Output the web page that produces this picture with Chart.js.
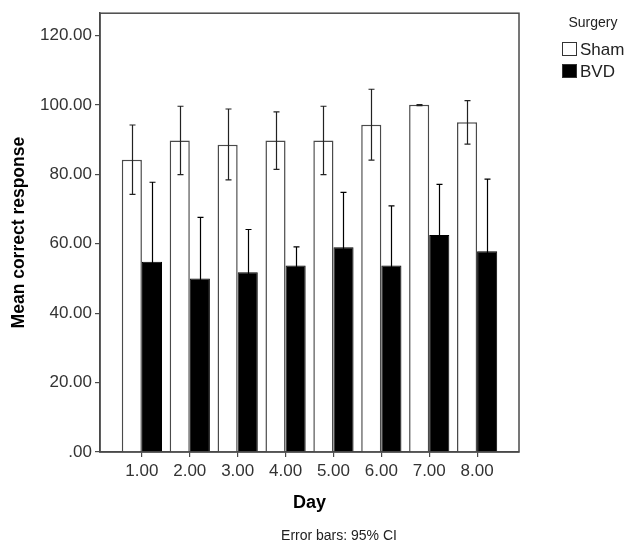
<!DOCTYPE html>
<html>
<head>
<meta charset="utf-8">
<script src="https://cdn.jsdelivr.net/npm/chart.js@4.4.0/dist/chart.umd.min.js"></script>
<style>
html,body{margin:0;padding:0;background:#fff;}
#wrap{width:630px;height:545px;position:relative;}
</style>
</head>
<body>
<div id="wrap"><canvas id="c" width="630" height="545"></canvas></div>
<script>
const days = [1, 2, 3, 4, 5, 6, 7, 8];
const yTicks = [0, 20, 40, 60, 80, 100, 120];
const seriesNames = ['Sham', 'BVD'];
const shamMean = [84.2, 89.7, 88.5, 89.7, 89.7, 94.3, 100.0, 95.0];
const shamLow  = [74.2, 79.9, 78.4, 81.4, 79.9, 84.1, 99.8, 88.7];
const shamHigh = [94.2, 99.6, 98.8, 98.0, 99.6, 104.5, 100.1, 101.2];
const bvdMean  = [54.8, 50.0, 51.8, 53.7, 59.0, 53.7, 62.5, 57.8];
const bvdLow   = [31.9, 32.4, 39.5, 48.3, 43.2, 36.5, 47.9, 37.0];
const bvdHigh  = [77.7, 67.6, 64.1, 59.1, 74.8, 70.9, 77.1, 78.6];
const legendTitle = 'Surgery';
const xTitle = 'Day';
const yTitle = 'Mean correct response';
const footnote = 'Error bars: 95% CI';

const FONT = '"Liberation Sans", Arial, sans-serif';
const errLow = [shamLow, bvdLow];
const errHigh = [shamHigh, bvdHigh];
const errColor = ['#222222', '#000000'];

const errorBars = {
  id: 'errorBars',
  afterDatasetsDraw(chart) {
    const ctx = chart.ctx;
    const ys = chart.scales.y;
    ctx.save();
    ctx.lineWidth = 1.2;
    chart.data.datasets.forEach((ds, di) => {
      const meta = chart.getDatasetMeta(di);
      ctx.strokeStyle = errColor[di];
      meta.data.forEach((el, j) => {
        const x = Math.round(el.x) + 0.5;
        const y1 = ys.getPixelForValue(errLow[di][j]);
        const y2 = ys.getPixelForValue(errHigh[di][j]);
        ctx.beginPath();
        ctx.moveTo(x, y1); ctx.lineTo(x, y2);
        ctx.moveTo(x - 3, y1); ctx.lineTo(x + 3, y1);
        ctx.moveTo(x - 3, y2); ctx.lineTo(x + 3, y2);
        ctx.stroke();
      });
    });
    ctx.restore();
  }
};

const frameAndText = {
  id: 'frameAndText',
  afterDraw(chart) {
    const ctx = chart.ctx;
    const a = chart.chartArea;
    ctx.save();
    ctx.strokeStyle = '#4a4a4a';
    ctx.lineWidth = 1.5;
    ctx.strokeRect(a.left, a.top, a.right - a.left, a.bottom - a.top);
    ctx.fillStyle = '#222';
    ctx.font = '14px ' + FONT;
    ctx.textAlign = 'center';
    ctx.textBaseline = 'middle';
    ctx.fillText(footnote, 339, 536);
    ctx.font = '14px ' + FONT;
    ctx.fillText(legendTitle, 593, 23);
    ctx.textAlign = 'left';
    ctx.font = '17px ' + FONT;
    const rows = [49, 71];
    chart.data.datasets.forEach((ds, i) => {
      const y = rows[i];
      ctx.fillStyle = ds.backgroundColor;
      ctx.fillRect(562, y - 7, 15, 14);
      ctx.strokeStyle = '#333';
      ctx.lineWidth = 1;
      ctx.strokeRect(562.5, y - 6.5, 14, 13);
      ctx.fillStyle = '#222';
      ctx.fillText(ds.label, 580, y + 1);
    });
    ctx.restore();
  }
};

new Chart(document.getElementById('c'), {
  type: 'bar',
  data: {
    datasets: [
      {
        label: seriesNames[0],
        data: days.map((d, i) => ({ x: d, y: shamMean[i] })),
        backgroundColor: '#ffffff',
        borderColor: '#4a4a4a',
        borderWidth: 1.5,
        categoryPercentage: 0.84,
        barPercentage: 1.0
      },
      {
        label: seriesNames[1],
        data: days.map((d, i) => ({ x: d, y: bvdMean[i] })),
        backgroundColor: '#000000',
        borderColor: '#000000',
        borderWidth: 1,
        categoryPercentage: 0.84,
        barPercentage: 1.0
      }
    ]
  },
  options: {
    responsive: false,
    animation: false,
    devicePixelRatio: 1,
    layout: { padding: { top: 5, right: 111, bottom: 0, left: 0 } },
    plugins: { legend: { display: false }, tooltip: { enabled: false } },
    scales: {
      x: {
        type: 'linear',
        min: 0.125,
        max: 8.875,
        offset: false,
        afterBuildTicks: s => { s.ticks = days.map(v => ({ value: v })); },
        afterFit: s => { s.height = 93; },
        grid: { offset: false, drawOnChartArea: false, drawTicks: true, tickLength: 5, color: '#4a4a4a', lineWidth: 1.2 },
        border: { display: true, color: '#4a4a4a', width: 1.5 },
        ticks: {
          color: '#333',
          padding: 4,
          font: { family: FONT, size: 17 },
          maxRotation: 0,
          callback: v => Number(v).toFixed(2)
        },
        title: {
          display: true,
          text: xTitle,
          color: '#000',
          font: { family: FONT, size: 18, weight: 'bold' },
          padding: { top: 0, bottom: 31 }
        }
      },
      y: {
        min: 0,
        max: 126.4,
        afterBuildTicks: s => { s.ticks = yTicks.map(v => ({ value: v })); },
        afterFit: s => { s.width = 100; },
        grid: { drawOnChartArea: false, drawTicks: true, tickLength: 5, color: '#4a4a4a', lineWidth: 1.2 },
        border: { display: true, color: '#4a4a4a', width: 1.5 },
        ticks: {
          color: '#333',
          padding: 3,
          font: { family: FONT, size: 17 },
          callback: v => v === 0 ? '.00' : Number(v).toFixed(2)
        },
        title: {
          display: true,
          text: yTitle,
          color: '#000',
          font: { family: FONT, size: 17.5, weight: 'bold' },
          padding: { top: 8.5, bottom: 0 }
        }
      }
    }
  },
  plugins: [errorBars, frameAndText]
});
</script>
</body>
</html>
